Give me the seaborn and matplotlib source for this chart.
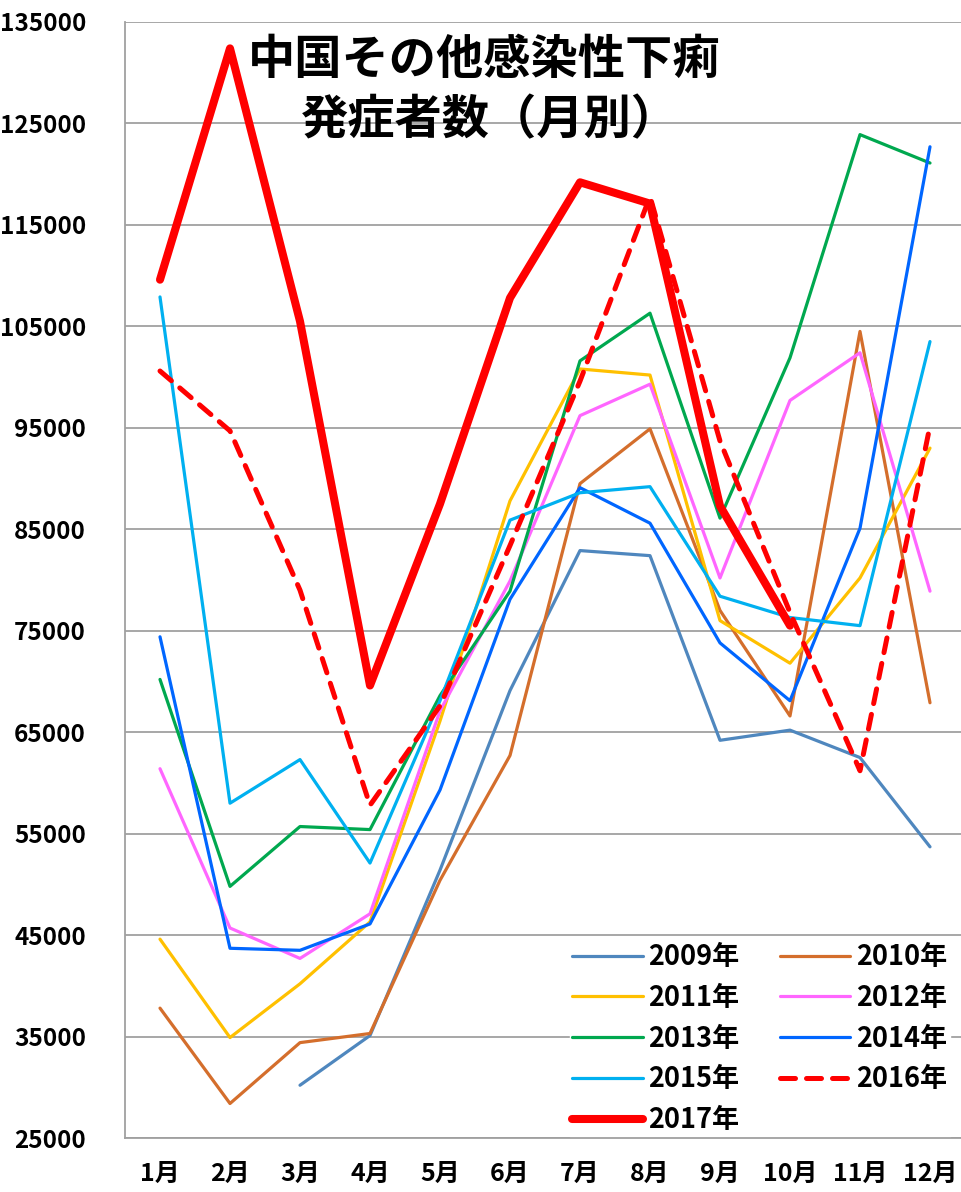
import numpy as np
import pandas as pd
import matplotlib
matplotlib.use("Agg")
import matplotlib.pyplot as plt
import seaborn as sns

months = ['1月', '2月', '3月', '4月', '5月', '6月', '7月', '8月', '9月', '10月', '11月', '12月']
years = ['2009年', '2010年', '2011年', '2012年', '2013年', '2014年', '2015年', '2016年', '2017年']

nan = np.nan
v2009 = [nan, nan, 30200, 35100, 51400, 69100, 82900, 82400, 64200, 65200, 62500, 53700]
v2010 = [37800, 28400, 34400, 35300, 50400, 62700, 89500, 94900, 77000, 66600, 104500, 67900]
v2011 = [44600, 34900, 40200, 46300, 66100, 87800, 100800, 100200, 76000, 71800, 80200, 93000]
v2012 = [61400, 45700, 42700, 47100, 67100, 79900, 96200, 99300, 80200, 97700, 102400, 78900]
v2013 = [70200, 49800, 55700, 55400, 68600, 78900, 101600, 106300, 86100, 101900, 123900, 121100]
v2014 = [74400, 43700, 43500, 46100, 59300, 78100, 89100, 85600, 73800, 68100, 85100, 122700]
v2015 = [107900, 58000, 62300, 52100, 68100, 85900, 88600, 89200, 78400, 76300, 75500, 103500]
v2016 = [100600, 94700, 79000, 57800, 67600, 83400, 99600, 117800, 93700, 76800, 61200, 95200]
v2017 = [109600, 132400, 105500, 69600, 87500, 107800, 119200, 117100, 87300, 75500, nan, nan]

series = [v2009, v2010, v2011, v2012, v2013, v2014, v2015, v2016, v2017]
colors = ['#4F87BE', '#D46E2C', '#FFC000', '#FF66FF', '#00A84F',
          '#0066FF', '#00B0F0', '#FF0000', '#FF0000']
widths = [2.3, 2.3, 2.3, 2.3, 2.3, 2.3, 2.3, 3.6, 5.8]

sns.set_style("white")
plt.rcParams['font.family'] = ['Noto Sans CJK JP', 'DejaVu Sans']
plt.rcParams['font.weight'] = 'bold'
plt.rcParams['text.color'] = 'black'
plt.rcParams['xtick.color'] = 'black'
plt.rcParams['ytick.color'] = 'black'

fig = plt.figure(figsize=(9.61, 11.92), dpi=100)
ax = fig.add_axes([125 / 961, 1 - 1138 / 1192, 840 / 961, (1138 - 22) / 1192])

for year, vals, col, lw in zip(years, series, colors, widths):
    df = pd.DataFrame({'x': np.arange(12), 'y': vals}).dropna()
    ls = (0, (3.0, 2.2)) if year == '2016年' else '-'
    sns.lineplot(data=df, x='x', y='y', ax=ax, color=col, linewidth=lw,
                 linestyle=ls, sort=False, label=year,
                 solid_capstyle='round', dash_capstyle='round', zorder=3)

# legend order: two columns, filled column by column
h, l = ax.get_legend_handles_labels()
hd = dict(zip(l, h))
order = ['2009年', '2011年', '2013年', '2015年', '2017年', '2010年', '2012年', '2014年', '2016年']
leg = ax.legend([hd[k] for k in order], order, ncol=2, loc='lower right',
                bbox_to_anchor=(0.998, -0.011), frameon=True, fancybox=False,
                edgecolor='white', framealpha=1.0, prop={'size': 19.5, 'weight': 'bold'},
                handlelength=2.6, columnspacing=1.5, labelspacing=0.47,
                borderpad=0.1, handletextpad=0.2)
leg.set_zorder(5)

ax.set_xlim(-0.5, 11.5)
ax.set_ylim(25000, 135000)
ax.set_yticks(np.arange(25000, 135001, 10000))
ax.set_xticks(np.arange(12))
ax.set_xticklabels(months)
ax.yaxis.grid(True, color='#A0A0A0', linewidth=1.3, zorder=0)
ax.set_axisbelow(True)
ax.tick_params(axis='y', length=0, pad=28, labelsize=17.5)
ax.tick_params(axis='x', length=0, pad=17, labelsize=18)
for t in ax.get_xticklabels() + ax.get_yticklabels():
    t.set_fontweight('bold')
ax.set_xlabel('')
ax.set_ylabel('')
for side in ['top', 'right']:
    ax.spines[side].set_visible(False)
for side in ['left', 'bottom']:
    ax.spines[side].set_color('#A0A0A0')
    ax.spines[side].set_linewidth(1.3)
    ax.spines[side].set_zorder(6)

fig.text(484 / 961, 1 - 60 / 1192, '中国その他感染性下痢', ha='center', va='center',
         fontsize=34, fontweight='bold')
fig.text(490 / 961, 1 - 120 / 1192, '発症者数（月別）', ha='center', va='center',
         fontsize=34, fontweight='bold')

fig.savefig('out.png', dpi=100, facecolor='white')
